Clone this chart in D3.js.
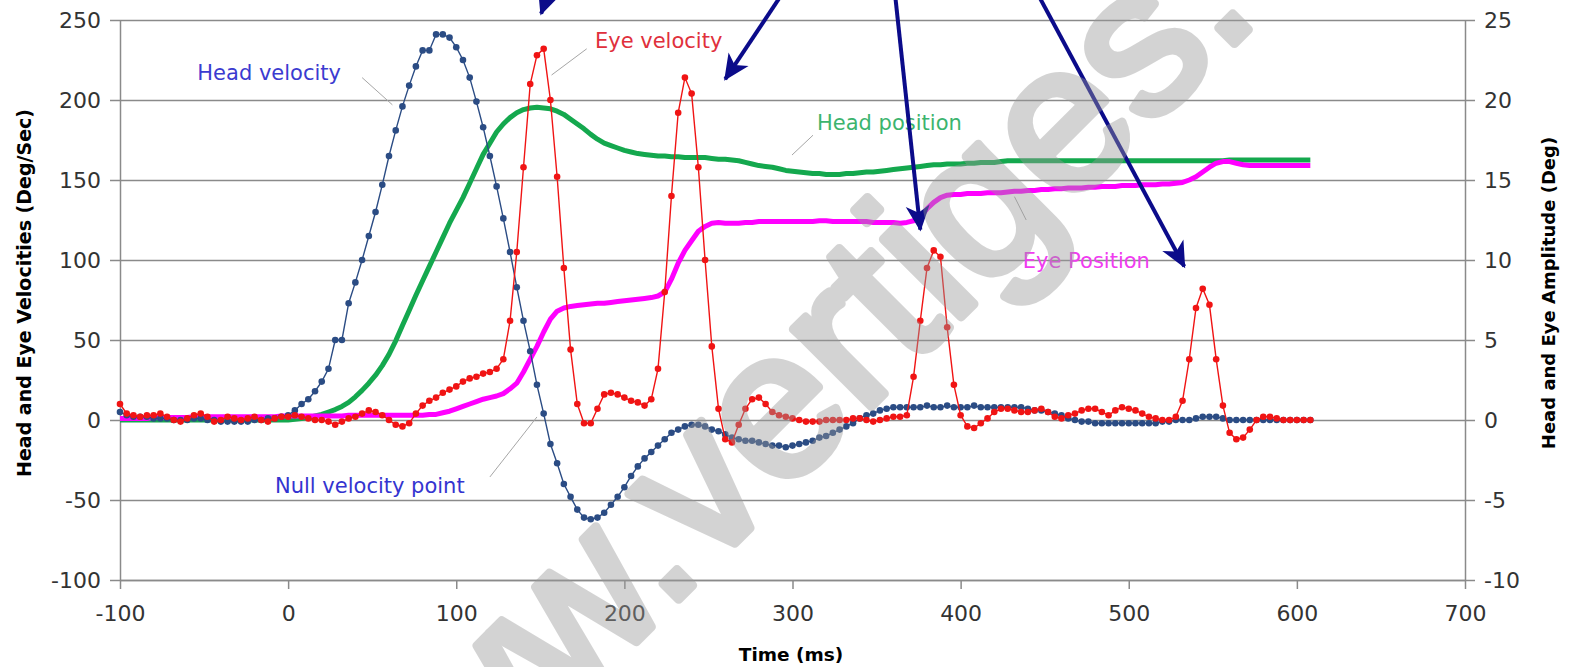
<!DOCTYPE html>
<html>
<head>
<meta charset="utf-8">
<script src="https://d3js.org/d3.v7.min.js"></script>
<style>
  body { margin: 0; background: #fff; }
  text { font-family: "DejaVu Sans", sans-serif; }
</style>
</head>
<body>
<svg id="chart"></svg>
<script>
// samples every 4 ms, -100 .. 608 ms
const time = d3.range(-100, 612, 4);

// Head velocity (deg/s), blue dots
const headVelocity = [
  5, 3, 2, 2, 2, 1, 1, 1, 0, 0,            // -100
  0, 1, 1, 0, 0, -1, -1, -1, -1, -1,       // -60
  0, 0, 1, 1, 2, 3, 6, 10, 13, 18,         // -20
  24, 32, 50, 50, 73, 86, 100, 115, 130, 147, // 20
  165, 181, 196, 209, 221, 231, 231, 241, 241, 239, // 60
  233, 225, 214, 199, 183, 165, 146, 126, 105, 83,  // 100
  62, 43, 22, 4, -15, -27, -40, -48, -56, -61,      // 140
  -62, -61, -58, -53, -48, -42, -35, -29, -24, -20, // 180
  -16, -12, -8, -6, -4, -3, -3, -4, -6, -7,        // 220
  -9, -11, -12, -13, -13, -14, -15, -16, -16, -17, // 260
  -16, -15, -14, -13, -11, -10, -8, -6, -4, -2,    // 300
  1, 3, 4, 6, 7, 8, 8, 8, 8, 8,            // 340
  9, 8, 8, 9, 8, 8, 8, 9, 8, 8,            // 380
  8, 8, 8, 8, 8, 7, 6, 6, 5, 4,            // 420
  3, 1, 0, -1, -1, -2, -2, -2, -2, -2,     // 460
  -2, -2, -2, -2, -2, -1, -1, 0, 0, 0,     // 500
  1, 2, 2, 2, 1, 0, 0, 0, 0, 0,            // 540
  0, 0, 0, 0, 0, 0, 0, 0                   // 580
];

// Eye velocity (deg/s), red dots
const eyeVelocity = [
  10, 4, 3, 2, 3, 3, 4, 2, 0, -1,          // -100
  1, 3, 4, 2, -1, 0, 2, 1, 0, 1,           // -60
  2, 0, -1, 1, 2, 2, 3, 2, 1, 0,           // -20
  0, -1, -3, -1, 1, 2, 4, 6, 5, 3,         // 20
  0, -3, -4, -2, 4, 9, 12, 14, 17, 19,     // 60
  21, 24, 26, 27, 29, 30, 32, 38, 62, 105, // 100
  158, 210, 228, 232, 200, 152, 95, 44, 10, -2, // 140
  -2, 7, 16, 17, 16, 14, 12, 11, 9, 13,    // 180
  32, 80, 140, 192, 214, 204, 158, 100, 46, 7, // 220
  -12, -14, -3, 7, 13, 14, 10, 5, 3, 2,    // 260
  1, 0, -1, -1, -1, 0, 0, 0, 0, 1,         // 300
  1, 0, -1, 0, 1, 2, 2, 3, 27, 62,         // 340
  95, 106, 102, 58, 22, 3, -4, -5, -2, 1,  // 380
  5, 7, 7, 6, 5, 5, 6, 7, 5, 2,            // 420
  1, 3, 4, 6, 7, 7, 5, 3, 6, 8,            // 460
  7, 6, 4, 2, 1, 0, 0, 2, 12, 38,          // 500
  70, 82, 72, 38, 9, -8, -12, -11, -6, 0,  // 540
  2, 2, 1, 0, 0, 0, 0, 0                   // 580
];

// Head position (deg), green, right axis
const headPosition = [
  0, 0, 0, 0, 0, 0, 0, 0, 0, 0,
  0, 0, 0, 0, 0, 0, 0, 0, 0, 0,
  0, 0, 0, 0, 0, 0, 0.05, 0.1, 0.15, 0.25,
  0.35, 0.5, 0.65, 0.85, 1.1, 1.45, 1.85, 2.3, 2.8, 3.4,
  4.1, 4.95, 5.9, 6.85, 7.8, 8.7, 9.6, 10.5, 11.4, 12.3,
  13.1, 13.9, 14.8, 15.7, 16.6, 17.3, 18.0, 18.5, 18.9, 19.2,
  19.4, 19.5, 19.55, 19.5, 19.45, 19.3, 19.1, 18.8, 18.5, 18.2,
  17.85, 17.55, 17.3, 17.15, 17.0, 16.85, 16.75, 16.65, 16.6, 16.55,
  16.5, 16.5, 16.45, 16.45, 16.4, 16.4, 16.4, 16.4, 16.35, 16.3,
  16.3, 16.25, 16.2, 16.1, 16.0, 15.9, 15.85, 15.8, 15.7, 15.6,
  15.55, 15.5, 15.45, 15.4, 15.4, 15.35, 15.35, 15.35, 15.4, 15.4,
  15.45, 15.5, 15.5, 15.55, 15.6, 15.65, 15.7, 15.75, 15.8, 15.85,
  15.9, 15.95, 15.95, 16.0, 16.0, 16.0, 16.05, 16.05, 16.1, 16.1,
  16.1, 16.15, 16.2, 16.2, 16.2, 16.2, 16.2, 16.2, 16.2, 16.2,
  16.2, 16.2, 16.2, 16.2, 16.2, 16.2, 16.2, 16.2, 16.2, 16.2,
  16.2, 16.2, 16.2, 16.2, 16.2, 16.2, 16.2, 16.2, 16.2, 16.2,
  16.2, 16.2, 16.2, 16.2, 16.2, 16.25, 16.25, 16.25, 16.25, 16.25,
  16.25, 16.25, 16.25, 16.25, 16.25, 16.25, 16.25, 16.25
];

// Eye position (deg), magenta, right axis
const eyePosition = [
  0.1, 0.1, 0.1, 0.1, 0.1, 0.15, 0.15, 0.15, 0.15, 0.15,
  0.15, 0.2, 0.2, 0.2, 0.2, 0.2, 0.2, 0.2, 0.2, 0.2,
  0.2, 0.2, 0.2, 0.2, 0.25, 0.25, 0.25, 0.25, 0.25, 0.25,
  0.25, 0.25, 0.25, 0.25, 0.3, 0.3, 0.3, 0.3, 0.3, 0.3,
  0.3, 0.3, 0.3, 0.3, 0.3, 0.3, 0.35, 0.35, 0.45, 0.55,
  0.7, 0.85, 1.0, 1.15, 1.3, 1.4, 1.5, 1.65, 1.95, 2.3,
  3.0, 3.8, 4.6, 5.5, 6.3, 6.8, 7.0, 7.1, 7.15, 7.2,
  7.25, 7.3, 7.3, 7.35, 7.4, 7.45, 7.5, 7.55, 7.6, 7.65,
  7.75, 8.0, 8.8, 9.8, 10.6, 11.2, 11.8, 12.1, 12.3, 12.35,
  12.3, 12.3, 12.3, 12.35, 12.35, 12.4, 12.4, 12.4, 12.4, 12.4,
  12.4, 12.4, 12.4, 12.4, 12.45, 12.45, 12.4, 12.4, 12.4, 12.4,
  12.4, 12.4, 12.35, 12.35, 12.35, 12.35, 12.3, 12.35, 12.45, 12.7,
  13.2, 13.6, 13.9, 14.05, 14.1, 14.1, 14.15, 14.15, 14.15, 14.2,
  14.2, 14.2, 14.25, 14.3, 14.3, 14.35, 14.35, 14.4, 14.4, 14.45,
  14.45, 14.5, 14.5, 14.5, 14.55, 14.55, 14.6, 14.6, 14.6, 14.65,
  14.65, 14.65, 14.7, 14.7, 14.7, 14.75, 14.75, 14.8, 14.85, 15.0,
  15.2, 15.5, 15.8, 16.05, 16.15, 16.15, 16.05, 15.95, 15.9, 15.9,
  15.9, 15.9, 15.9, 15.9, 15.9, 15.9, 15.9, 15.9
];

const xTicks = [-100, 0, 100, 200, 300, 400, 500, 600, 700];
const yTicks = [-100, -50, 0, 50, 100, 150, 200, 250];
const y2Ticks = [-10, -5, 0, 5, 10, 15, 20, 25];

// callout labels, anchored in data units (time, deg/s)
const labels = [
  { text: "Head velocity", t: -54, v: 212.5, color: "#3b3bd0", lead: [[44, 214], [62, 197]] },
  { text: "Eye velocity", t: 182.5, v: 232.5, color: "#e0303c", lead: [[177.6, 232], [156.7, 215.6]] },
  { text: "Head position", t: 314.6, v: 181.2, color: "#3cb46e", lead: [[312.2, 178], [299.7, 165.6]] },
  { text: "Null velocity point", t: -7.8, v: -45.6, color: "#3434d0", lead: [[120, -35.6], [148, 1.9]] },
  { text: "Eye Position", t: 437, v: 95, color: "#f03cf0", lead: [[432, 139.6], [439, 125]] }
];

// navy pointer arrows: [from, to] in (time, deg/s)
const arrows = [
  [[160, 282], [150.5, 254]],
  [[293, 265], [260, 213]],
  [[361, 266], [376, 119]],
  [[446, 266], [533, 96]]
];

const W = 1569, H = 667;
const svg = d3.select('#chart').attr('width', W).attr('height', H);

const x = d3.scaleLinear().domain([-100, 700]).range([120, 1465]);
const y = d3.scaleLinear().domain([-100, 250]).range([580, 20]);
const y2 = d3.scaleLinear().domain([-10, 25]).range([580, 20]);

const gridColor = '#8a8a8a';
const plain = d => String(d);   // hyphen minus, like the original

// gridlines
svg.append('g')
  .selectAll('line')
  .data(yTicks)
  .join('line')
  .attr('x1', x(-100)).attr('x2', x(700))
  .attr('y1', d => Math.round(y(d)) + 0.5).attr('y2', d => Math.round(y(d)) + 0.5)
  .attr('stroke', gridColor).attr('stroke-width', 1.5);

function styleAxis(g) {
  g.select('.domain').attr('stroke', gridColor).attr('stroke-width', 1.5);
  g.selectAll('.tick line').attr('stroke', gridColor).attr('stroke-width', 1.5);
  g.selectAll('.tick text')
    .attr('fill', '#333')
    .style('font-family', '"DejaVu Sans", sans-serif')
    .style('font-size', '22px');
}

svg.append('g')
  .attr('transform', `translate(${x(-100)},0)`)
  .call(d3.axisLeft(y).tickValues(yTicks).tickFormat(plain).tickSize(10).tickPadding(9).tickSizeOuter(0))
  .call(styleAxis);

svg.append('g')
  .attr('transform', `translate(${x(700)},0)`)
  .call(d3.axisRight(y2).tickValues(y2Ticks).tickFormat(plain).tickSize(10).tickPadding(9).tickSizeOuter(0))
  .call(styleAxis);

svg.append('g')
  .attr('transform', `translate(0,${y(-100)})`)
  .call(d3.axisBottom(x).tickValues(xTicks).tickFormat(plain).tickSize(9).tickPadding(16).tickSizeOuter(0))
  .call(styleAxis);

// axis titles
svg.append('text')
  .attr('transform', `translate(31,293) rotate(-90)`)
  .attr('text-anchor', 'middle')
  .style('font-weight', 'bold').style('font-size', '19px')
  .text('Head and Eye Velocities (Deg/Sec)');

svg.append('text')
  .attr('transform', `translate(1555,293) rotate(-90)`)
  .attr('text-anchor', 'middle')
  .style('font-weight', 'bold').style('font-size', '18px')
  .text('Head and Eye Amplitude (Deg)');

svg.append('text')
  .attr('x', 791).attr('y', 661)
  .attr('text-anchor', 'middle')
  .style('font-weight', 'bold').style('font-size', '18.5px')
  .text('Time (ms)');

// series
const lineV = (vals) => d3.line().x((d, i) => x(time[i])).y(d => y(d))(vals);
const lineD = (vals) => d3.line().x((d, i) => x(time[i])).y(d => y2(d))(vals);

svg.append('path').attr('d', lineD(headPosition))
  .attr('fill', 'none').attr('stroke', '#14a84e').attr('stroke-width', 5)
  .attr('stroke-linejoin', 'round');

svg.append('path').attr('d', lineD(eyePosition))
  .attr('fill', 'none').attr('stroke', '#ff00ff').attr('stroke-width', 5)
  .attr('stroke-linejoin', 'round');

function dotted(vals, color) {
  svg.append('path').attr('d', lineV(vals))
    .attr('fill', 'none').attr('stroke', color).attr('stroke-width', 1.4);
  svg.append('g').selectAll('circle')
    .data(vals)
    .join('circle')
    .attr('cx', (d, i) => x(time[i]))
    .attr('cy', d => y(d))
    .attr('r', 3.3)
    .attr('fill', color);
}
dotted(headVelocity, '#2b4c84');
dotted(eyeVelocity, '#f01414');

// callouts
labels.forEach(l => {
  svg.append('line')
    .attr('x1', x(l.lead[0][0])).attr('y1', y(l.lead[0][1]))
    .attr('x2', x(l.lead[1][0])).attr('y2', y(l.lead[1][1]))
    .attr('stroke', '#a6a6a6').attr('stroke-width', 1);
  svg.append('text')
    .attr('x', x(l.t)).attr('y', y(l.v))
    .attr('fill', l.color)
    .style('font-size', '21px')
    .text(l.text);
});

// arrows
svg.append('defs').append('marker')
  .attr('id', 'head')
  .attr('markerUnits', 'userSpaceOnUse')
  .attr('viewBox', '-26 -13 30 26')
  .attr('refX', 0).attr('refY', 0)
  .attr('markerWidth', 30).attr('markerHeight', 26)
  .attr('orient', 'auto')
  .append('path')
  .attr('d', 'M2,0 L-24,-12 L-17,0 L-24,12 Z')
  .attr('fill', '#0b0b8a');

svg.append('g').selectAll('line')
  .data(arrows)
  .join('line')
  .attr('x1', d => x(d[0][0])).attr('y1', d => y(d[0][1]))
  .attr('x2', d => x(d[1][0])).attr('y2', d => y(d[1][1]))
  .attr('stroke', '#0b0b8a').attr('stroke-width', 4)
  .attr('marker-end', 'url(#head)');

// watermark (group opacity so fill+stroke don't double up)
const wm = svg.append('g')
  .attr('transform', 'translate(706,572) rotate(-45)')
  .attr('opacity', 0.42)
  .attr('fill', '#999').attr('stroke', '#999')
  .attr('stroke-width', 9).attr('stroke-linejoin', 'round');
wm.append('text').attr('text-anchor', 'end')
  .style('font-family', '"Liberation Sans", Arial, sans-serif').style('font-size', '208px')
  .text('www.');
wm.append('text').attr('text-anchor', 'start')
  .style('font-family', '"Liberation Sans", Arial, sans-serif').style('font-size', '208px')
  .text('vertiges.com');
</script>
</body>
</html>
